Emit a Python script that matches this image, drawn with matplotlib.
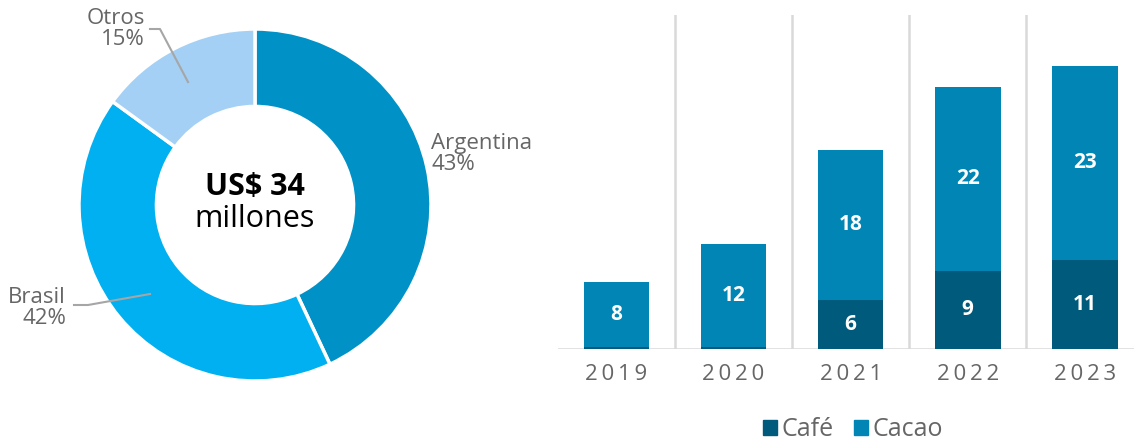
import numpy as np
import matplotlib
matplotlib.use("Agg")
import matplotlib.pyplot as plt

plt.rcParams['font.family'] = ['Open Sans', 'DejaVu Sans']

# donut data
paises = ['Argentina', 'Brasil', 'Otros']
shares = [43, 42, 15]
pie_colors = ['#0092C7', '#00B0F0', '#A3D0F4']

# stacked bars data (US$ millones)
years = ['2019', '2020', '2021', '2022', '2023']
cafe = [0.2, 0.2, 5.9, 9.4, 10.7]
cacao = [7.8, 12.4, 18.0, 22.1, 23.3]
cafe_color = '#005A7B'
cacao_color = '#0085B5'

gray_txt = '#666666'

fig = plt.figure(figsize=(11.34, 4.43), dpi=100)

# ---------------- donut ----------------
axd = fig.add_axes([35/1134, 18/443, 440/1134, 440/443])
axd.pie(shares, colors=pie_colors, startangle=90, counterclock=False,
        radius=1.0, wedgeprops=dict(width=0.44, edgecolor='white', linewidth=2.5))
axd.set_xlim(-1.25, 1.25)
axd.set_ylim(-1.25, 1.25)
axd.set_aspect('equal')
axd.axis('off')

axd.text(0, 0.10, 'US$ 34', ha='center', va='center', fontsize=22,
         fontweight='bold', color='black')
axd.text(0, -0.08, 'millones', ha='center', va='center', fontsize=22,
         color='black')

# px -> data helper for the donut axes (center 255,205 ; 176 px per unit)
def d(px, py):
    return ((px - 255) / 176.0, (205 - py) / 176.0)

# labels
tx, ty = d(145, 29)
axd.text(tx, ty, f'{paises[2]}\n{shares[2]}%', ha='right', va='center',
         fontsize=16, color=gray_txt, linespacing=0.95)
xs, ys = zip(d(150, 29), d(160, 29), d(188, 82))
axd.plot(xs, ys, color='#A6A6A6', lw=1.5, clip_on=False)

tx, ty = d(66, 308)
axd.text(tx, ty, f'{paises[1]}\n{shares[1]}%', ha='right', va='center',
         fontsize=16, color=gray_txt, linespacing=0.95)
xs, ys = zip(d(74, 305), d(88, 305), d(150, 294))
axd.plot(xs, ys, color='#A6A6A6', lw=1.5, clip_on=False)

tx, ty = d(431, 154)
axd.text(tx, ty, f'{paises[0]}\n{shares[0]}%', ha='left', va='center',
         fontsize=16, color=gray_txt, linespacing=0.95)

# ---------------- bars ----------------
axb = fig.add_axes([558/1134, 94/443, (1134 - 558)/1134, 334/443])
x = np.arange(len(years))
w = 0.56
axb.bar(x, cafe, width=w, color=cafe_color, zorder=3)
axb.bar(x, cacao, width=w, bottom=cafe, color=cacao_color, zorder=3)

for i in range(len(years)):
    if cafe[i] >= 1:
        axb.text(x[i], cafe[i] / 2, f'{cafe[i]:.0f}', ha='center', va='center',
                 color='white', fontsize=15, fontweight='bold', zorder=4)
    axb.text(x[i], cafe[i] + cacao[i] / 2, f'{cacao[i]:.0f}', ha='center',
             va='center', color='white', fontsize=15, fontweight='bold', zorder=4)

for b in x[:-1] + 0.5:
    axb.axvline(b, color='#D9D9D9', lw=1.8, zorder=1)
axb.axhline(0, color='#D9D9D9', lw=1.8, zorder=2)

axb.set_xlim(-0.5, 4.42)
axb.set_ylim(0, 40.1)
axb.set_xticks(x)
axb.set_xticklabels(['\u2009'.join(y) for y in years], fontsize=16, color=gray_txt)
axb.tick_params(axis='x', length=0, pad=11)
axb.set_yticks([])
for s in axb.spines.values():
    s.set_visible(False)
axb.patch.set_alpha(0)

handles = [plt.Rectangle((0, 0), 1, 1, color=cafe_color),
           plt.Rectangle((0, 0), 1, 1, color=cacao_color)]
fig.legend(handles, ['Café', 'Cacao'], loc='center', bbox_to_anchor=(853/1134, 1 - 430/443),
           ncol=2, frameon=False, fontsize=18, handlelength=0.55, handleheight=0.55,
           handletextpad=0.2, columnspacing=0.8, labelcolor=gray_txt)

fig.savefig('out.png', dpi=100)
